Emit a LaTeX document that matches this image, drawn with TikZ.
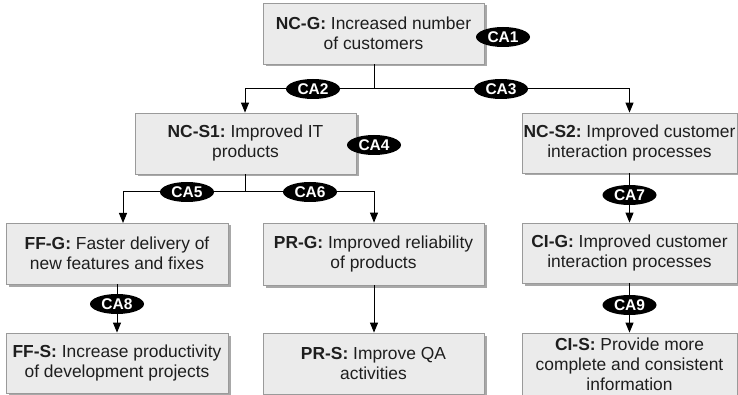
\documentclass[tikz,border=0pt]{standalone}
\usepackage{fontspec}
\setmainfont{Liberation Sans}
\usetikzlibrary{arrows.meta,shapes.geometric,shadows}
\definecolor{boxfill}{HTML}{EBEBEB}
\definecolor{boxline}{HTML}{9A9A9A}
\definecolor{shadowcol}{HTML}{A8A8A8}
\definecolor{textcol}{HTML}{1E1E1E}
\frenchspacing
\begin{document}
\begin{tikzpicture}[x=1pt,y=-1pt,
  goalbox/.style={draw=boxline, fill=boxfill, line width=0.8pt,
    minimum width=221pt, minimum height=61pt, align=center, inner sep=0pt,
    font=\fontsize{17.4}{20}\selectfont, text=textcol,
    drop shadow={shadow xshift=2.5pt, shadow yshift=-2.5pt, fill=shadowcol, opacity=1}},
  narrowbox/.style={goalbox, minimum width=215pt, minimum height=60pt},
  tag/.style={ellipse, fill=black, text=white, inner sep=0pt,
    minimum width=54pt, minimum height=20pt,
    font=\fontsize{15.5}{16}\selectfont\bfseries},
  link/.style={line width=1pt, draw=black},
  arr/.style={link, -{Triangle[length=10pt,width=8pt]}}
]
\useasboundingbox (0,0) rectangle (738,395);
\fill[white] (0,0) rectangle (738,395);

% goal and strategy boxes
\node[goalbox] (ncg) at (373.5,33.5) {\textbf{NC-G:} Increased number\\of customers};
\node[goalbox] (ncs1) at (245.5,143.5) {\textbf{NC-S1:} Improved IT\\products};
\node[narrowbox] (ncs2) at (629.5,143) {\textbf{NC-S2:} Improved customer\\interaction processes};
\node[goalbox, minimum width=222pt] (ffg) at (117,253.5) {\textbf{FF-G:} Faster delivery of\\new features and fixes};
\node[goalbox, minimum height=62pt] (prg) at (373.5,254) {\textbf{PR-G:} Improved reliability\\of products};
\node[narrowbox] (cig) at (629.5,253) {\textbf{CI-G:} Improved customer\\interaction processes};
\node[goalbox, minimum width=222pt, minimum height=60pt] (ffs) at (117,363) {\textbf{FF-S:} Increase productivity\\of development projects};
\node[goalbox] (prs) at (373.5,363.5) {\textbf{PR-S:} Improve QA\\activities};
\node[narrowbox, minimum height=62pt] (cis) at (629.5,364) {\textbf{CI-S:} Provide more\\complete and consistent\\information};

% branch points
\coordinate (j1) at (374,89);
\coordinate (j2) at (245,192);
\coordinate (ffin) at (123,223);

% connectors
\draw[link] (ncg.south -| j1) -- (j1);
\draw[arr] (j1) -| (ncs1.north -| j2);
\draw[arr] (j1) -| (ncs2.north);
\draw[link] (ncs1.south -| j2) -- (j2);
\draw[arr] (j2) -| (ffin);
\draw[arr] (j2) -| (prg.north -| j1);
\draw[arr] (ffg.south) -- (ffs.north);
\draw[arr] (prg.south -| j1) -- (prs.north -| j1);
\draw[arr] (ncs2.south) -- (cig.north);
\draw[arr] (cig.south) -- (cis.north);

% action labels
\node[tag] (ca1) at (503,37) {CA1};
\node[tag] (ca2) at (313,89) {CA2};
\node[tag] (ca3) at (501,89) {CA3};
\node[tag] (ca4) at (374,145) {CA4};
\node[tag] (ca5) at (187,192) {CA5};
\node[tag] (ca6) at (310,192) {CA6};
\node[tag] (ca7) at (629.5,195) {CA7};
\node[tag] (ca8) at (117,304) {CA8};
\node[tag] (ca9) at (629.5,305) {CA9};
\end{tikzpicture}
\end{document}
